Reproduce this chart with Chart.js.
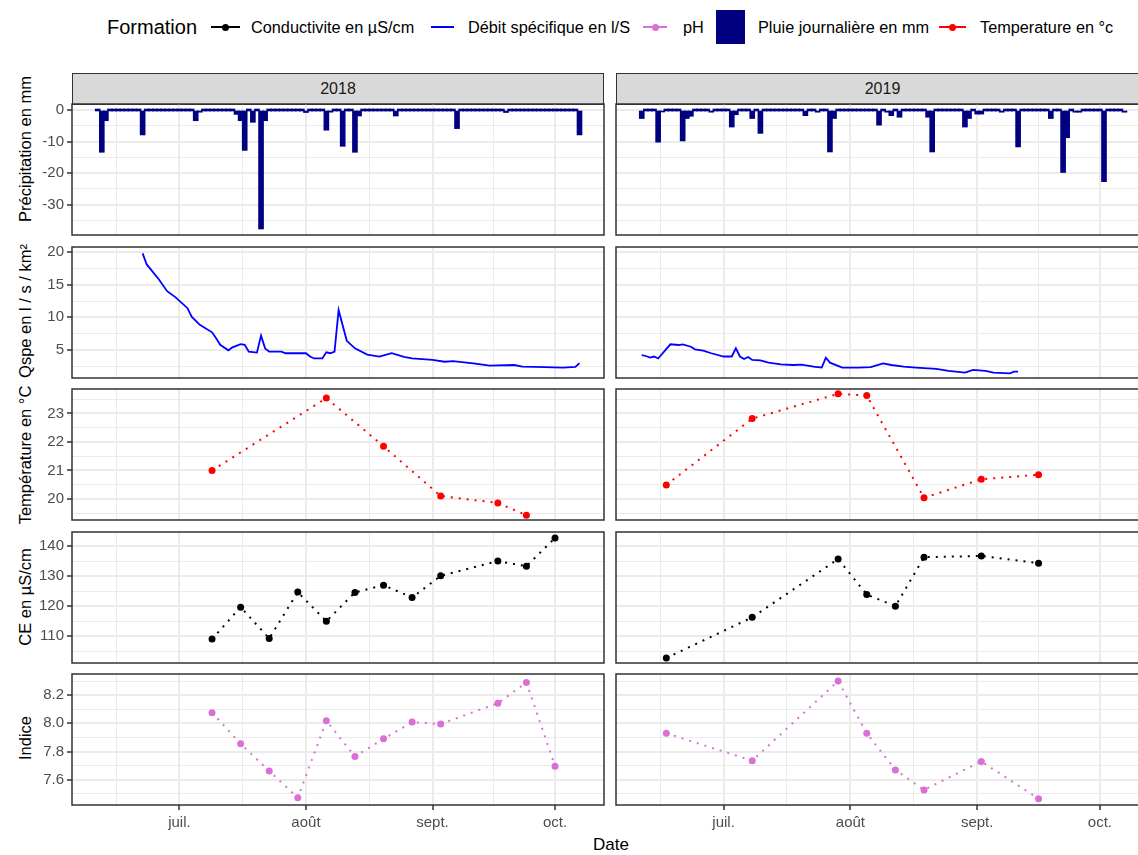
<!DOCTYPE html>
<html><head><meta charset="utf-8">
<script src="https://cdn.jsdelivr.net/npm/chart.js@4.4.1/dist/chart.umd.min.js"></script>
<style>
html,body{margin:0;padding:0;background:#fff;}
body{width:1138px;height:855px;overflow:hidden;position:relative;font-family:'Liberation Sans',Arial,sans-serif;}
canvas{position:absolute;}
.strip{position:absolute;background:#D9D9D9;border:1.5px solid #333;box-sizing:border-box;color:#1A1A1A;font-size:16px;display:flex;align-items:center;justify-content:center;}
.lg{position:absolute;white-space:nowrap;color:#000;}
.key{position:absolute;}
.ytitle{position:absolute;white-space:nowrap;color:#000;font-size:16.5px;line-height:16.5px;transform:translate(-50%,-50%) rotate(-90deg);}
</style></head><body>
<div class="lg" style="left:107px;top:17px;font-size:20px;line-height:20px">Formation</div>
<div class="key" style="left:211px;top:26px;width:29px;height:2px;background:#000"></div>
<div class="key" style="left:221.5px;top:23.5px;width:7px;height:7px;border-radius:50%;background:#000"></div>
<div class="lg" style="left:251px;top:19px;font-size:16.3px;line-height:16px">Conductivite en µS/cm</div>
<div class="key" style="left:431px;top:26px;width:23px;height:2px;background:#0000FF"></div>
<div class="lg" style="left:468px;top:19px;font-size:16.3px;line-height:16px">Débit spécifique en l/S</div>
<div class="key" style="left:643px;top:26px;width:24px;height:2px;background:#DA70D6"></div>
<div class="key" style="left:651.5px;top:23.5px;width:7px;height:7px;border-radius:50%;background:#DA70D6"></div>
<div class="lg" style="left:683px;top:19px;font-size:16.3px;line-height:16px">pH</div>
<div class="key" style="left:716px;top:10px;width:29px;height:34px;background:#000080"></div>
<div class="lg" style="left:758px;top:19px;font-size:16.3px;line-height:16px">Pluie journalière en mm</div>
<div class="key" style="left:939px;top:26px;width:27px;height:2px;background:#FF0000"></div>
<div class="key" style="left:949px;top:23.5px;width:7px;height:7px;border-radius:50%;background:#FF0000"></div>
<div class="lg" style="left:980px;top:19px;font-size:16.3px;line-height:16px">Temperature en °c</div>

<div class="strip" style="left:72px;top:73px;width:532px;height:32px">2018</div>
<div class="strip" style="left:616px;top:73px;width:533px;height:32px">2019</div>
<div class="lg" style="left:561px;width:100px;text-align:center;top:836px;font-size:17px;line-height:17px">Date</div>

<script>
// ---------------- DATA ----------------
const monthLabels = ['juil.', 'août', 'sept.', 'oct.'];
const monthStarts = ['07-01', '08-01', '09-01', '10-01'];

const rainTicks = [-30, -20, -10, 0];
const qTicks = [5, 10, 15, 20];
const tempTicks = [20, 21, 22, 23];
const ceTicks = [110, 120, 130, 140];
const phTicks = [7.6, 7.8, 8.0, 8.2];

const yTitles = ['Précipitation en mm', 'Qspe en l / s / km²', 'Température en °C', 'CE en µS/cm', 'Indice'];

// daily rain (mm), days not listed = 0
const rainPeriod2018 = ['06-11', '10-07'];
const rainDates2018 = ['06-12','06-13','06-22','07-05','07-06','07-15','07-16','07-17','07-19','07-21','07-22','08-01','08-06','08-07','08-10','08-13','08-14','08-23','09-07','09-19','10-07'];
const rainMm2018 = [13.4,3.4,7.9,3.4,0.7,1.4,3.4,12.8,3.9,37.7,3.4,0.8,6.4,0.7,11.5,13.4,1.9,1.9,5.9,0.8,7.9];
const rainPeriod2019 = ['06-11', '10-07'];
const rainDates2019 = ['06-11','06-15','06-16','06-21','06-22','06-23','06-28','07-03','07-04','07-08','07-10','07-21','07-24','07-27','07-28','08-08','08-10','08-11','08-13','08-20','08-21','08-29','08-30','09-01','09-02','09-07','09-11','09-19','09-22','09-23','09-25','09-26','10-02','10-07'];
const rainMm2019 = [2.7,10.2,0.6,9.8,2.7,2.0,0.7,5.4,1.5,2.7,7.4,1.8,0.7,13.3,2.7,4.8,0.7,1.8,2.3,2.3,13.3,5.4,2.7,1.3,1.3,0.7,11.7,2.7,19.8,8.8,0.7,0.7,22.7,0.7];

// specific discharge (l/s/km2)
const qDates2018 = ['06-22','06-23','06-26','06-28','06-30','07-03','07-04','07-06','07-09','07-10','07-11','07-13','07-14','07-16','07-17','07-18','07-20','07-21','07-22','07-23','07-26','07-27','08-01','08-02','08-03','08-05','08-06','08-07','08-08','08-09','08-11','08-13','08-16','08-19','08-22','08-25','08-27','09-01','09-04','09-06','09-11','09-15','09-21','09-23','09-26','10-03','10-06','10-07'];
const qVals2018 = [19.8,18.1,15.8,14.0,13.1,11.4,10.1,8.85,7.7,6.8,5.8,4.95,5.4,5.9,5.8,4.74,4.6,7.2,5.25,4.75,4.75,4.5,4.5,4.0,3.7,3.7,4.64,4.5,4.74,11.1,6.4,5.25,4.3,4.0,4.5,3.95,3.7,3.5,3.2,3.3,2.95,2.6,2.7,2.45,2.4,2.3,2.4,3.0];
const qDates2019 = ['06-11','06-12','06-13','06-14','06-15','06-18','06-20','06-21','06-23','06-24','06-26','06-28','07-01','07-03','07-04','07-05','07-06','07-07','07-08','07-10','07-12','07-15','07-18','07-20','07-23','07-25','07-26','07-27','07-30','08-03','08-06','08-09','08-11','08-14','08-17','08-22','08-25','08-29','08-31','09-03','09-05','09-09','09-10','09-11'];
const qVals2019 = [4.23,4.08,3.83,4.0,3.7,5.87,5.76,5.87,5.5,5.1,4.9,4.5,4.0,4.0,5.25,4.0,3.62,3.93,3.47,3.42,3.06,2.8,2.7,2.75,2.45,2.3,3.83,3.06,2.3,2.3,2.36,2.96,2.7,2.45,2.3,2.1,1.8,1.53,1.94,1.8,1.53,1.43,1.68,1.68];

// temperature (°C)
const tempDates2018 = ['07-09','08-06','08-20','09-03','09-17','09-24'];
const temp2018 = [21.0,23.54,21.85,20.1,19.86,19.43];
const tempDates2019 = ['06-17','07-08','07-29','08-05','08-19','09-02','09-16'];
const temp2019 = [20.49,22.82,23.69,23.63,20.04,20.69,20.85];

// conductivity (µS/cm) and pH
const sampleDates2018 = ['07-09','07-16','07-23','07-30','08-06','08-13','08-20','08-27','09-03','09-17','09-24','10-01'];
const ce2018 = [109.1,119.7,109.3,124.7,115.0,124.6,127.0,122.9,130.1,135.0,133.3,142.7];
const ph2018 = [8.076,7.855,7.662,7.473,8.018,7.765,7.89,8.009,7.995,8.143,8.29,7.696];
const sampleDates2019 = ['06-17','07-08','07-29','08-05','08-12','08-19','09-02','09-16'];
const ce2019 = [102.8,116.3,135.7,123.9,120.0,136.3,136.7,134.3];
const ph2019 = [7.93,7.735,8.30,7.93,7.67,7.528,7.73,7.466];

// ---------------- HELPERS ----------------
function doy(year, md) {
  const [m, d] = md.split('-').map(Number);
  return (Date.UTC(year, m - 1, d) - Date.UTC(year, 0, 1)) / 864e5 + 1;
}
function pts(year, dates, vals) { return dates.map((d, i) => ({x: doy(year, d), y: vals[i]})); }
function dailyRain(year, period, dates, vals) {
  const map = {};
  dates.forEach((d, i) => { map[doy(year, d)] = vals[i]; });
  const out = [];
  for (let t = doy(year, period[0]); t <= doy(year, period[1]); t++) out.push({x: t, y: -(map[t] || 0)});
  return out;
}
const isMajor = (v, major) => major.some(m => Math.abs(m - v) < 1e-6);
function gridValues(major, lo, hi) {
  const h = (major[1] - major[0]) / 2;
  let v = major[0];
  while (v - h >= lo - 1e-9) v -= h;
  const out = [];
  for (; v <= hi + 1e-9; v += h) out.push(Math.round(v * 1e6) / 1e6);
  return out;
}
function dateGrid(major, lo, hi) {
  const out = [...major];
  for (let i = 0; i < major.length - 1; i++) out.push((major[i] + major[i + 1]) / 2);
  out.push(major[0] - (major[1] - major[0]) / 2);
  out.push(major[major.length - 1] + (major[major.length - 1] - major[major.length - 2]) / 2);
  return out.filter(v => v >= lo && v <= hi).sort((a, b) => a - b);
}

// ---------------- LAYOUT ----------------
Chart.defaults.font.family = "'Liberation Sans', Arial, sans-serif";
const X_MIN = 155.7, X_MAX = 286.0;
const ROW_TOP = [104, 247, 389, 532, 674];
const PANEL_H = 131, PAD_V = 15, XAXIS_H = 40;
const TITLE_CY = [149, 311, 455, 597, 738];
const COLS = [
  {left: 0, width: 610, padL: 0, padR: 6, yW: 72},
  {left: 606, width: 560, padL: 10, padR: 17, yW: 0}
];
const xMajor = monthStarts.map(md => doy(2018, md));
const xGrid = dateGrid(xMajor, X_MIN, X_MAX);

const ROWS = [
  {min: -39.6, max: 1.9, major: rainTicks, fmt: String},
  {min: 0.71, max: 20.77, major: qTicks, fmt: String},
  {min: 19.26, max: 23.86, major: tempTicks, fmt: String},
  {min: 101.13, max: 144.67, major: ceTicks, fmt: String},
  {min: 7.421, max: 8.35, major: phTicks, fmt: v => v.toFixed(1)}
];
ROWS.forEach(r => { r.grid = gridValues(r.major, r.min, r.max); });

yTitles.forEach((t, i) => {
  const d = document.createElement('div');
  d.className = 'ytitle';
  d.textContent = t;
  d.style.left = '24.5px';
  d.style.top = TITLE_CY[i] + 'px';
  document.body.appendChild(d);
});

const borderPlugin = {
  id: 'panelBorder',
  afterDatasetsDraw(chart) {
    const {ctx, chartArea: a} = chart;
    ctx.save();
    ctx.strokeStyle = '#333333';
    ctx.lineWidth = 1.5;
    ctx.strokeRect(a.left, a.top, a.right - a.left, a.bottom - a.top);
    ctx.restore();
  }
};

function barSet(data) {
  return {type: 'bar', data, backgroundColor: '#000080', borderWidth: 0, barThickness: 5, minBarLength: 2};
}
function lineSet(data) {
  return {type: 'line', data, borderColor: '#0000FF', borderWidth: 1.8, pointRadius: 0, tension: 0, fill: false};
}
function dotSet(data, color) {
  return {type: 'line', data, borderColor: color, backgroundColor: color, borderWidth: 2, borderDash: [2, 6],
    borderCapStyle: 'butt', pointRadius: 3.5, pointBorderWidth: 0, pointBackgroundColor: color, tension: 0, fill: false};
}

const PANELS = [
  [barSet(dailyRain(2018, rainPeriod2018, rainDates2018, rainMm2018)), barSet(dailyRain(2019, rainPeriod2019, rainDates2019, rainMm2019))],
  [lineSet(pts(2018, qDates2018, qVals2018)), lineSet(pts(2019, qDates2019, qVals2019))],
  [dotSet(pts(2018, tempDates2018, temp2018), '#FF0000'), dotSet(pts(2019, tempDates2019, temp2019), '#FF0000')],
  [dotSet(pts(2018, sampleDates2018, ce2018), '#000000'), dotSet(pts(2019, sampleDates2019, ce2019), '#000000')],
  [dotSet(pts(2018, sampleDates2018, ph2018), '#DA70D6'), dotSet(pts(2019, sampleDates2019, ph2019), '#DA70D6')]
];

function panel(row, col) {
  const c = COLS[col], R = ROWS[row];
  const isBottom = row === ROWS.length - 1;
  const isLeft = col === 0;
  const canvas = document.createElement('canvas');
  const top = ROW_TOP[row] - PAD_V;
  const h = PAD_V + PANEL_H + (isBottom ? XAXIS_H : PAD_V);
  canvas.width = c.width; canvas.height = h;
  canvas.style.left = c.left + 'px'; canvas.style.top = top + 'px';
  canvas.style.width = c.width + 'px'; canvas.style.height = h + 'px';
  document.body.appendChild(canvas);
  const ds = PANELS[row][col];
  new Chart(canvas, {
    type: ds.type,
    data: {datasets: [ds]},
    options: {
      responsive: false, devicePixelRatio: 1, animation: false,
      layout: {padding: {top: PAD_V, bottom: isBottom ? 0 : PAD_V, left: c.padL, right: c.padR}},
      plugins: {legend: {display: false}, tooltip: {enabled: false}},
      scales: {
        x: {
          type: 'linear', min: X_MIN, max: X_MAX, offset: false,
          afterBuildTicks: s => { s.ticks = xGrid.map(v => ({value: v})); },
          afterFit: s => { s.height = isBottom ? XAXIS_H : 0; },
          ticks: {display: isBottom, autoSkip: false, maxRotation: 0, minRotation: 0, padding: 4, color: '#4D4D4D',
            font: {size: 15},
            callback: v => { const i = xMajor.findIndex(m => Math.abs(m - v) < 1e-6); return i < 0 ? '' : monthLabels[i]; }},
          grid: {offset: false, color: '#EBEBEB',
            lineWidth: ctx => (ctx.tick && isMajor(ctx.tick.value, xMajor)) ? 2 : 1,
            drawTicks: isBottom, tickLength: 5, tickWidth: 1.5,
            tickColor: ctx => (ctx.tick && isMajor(ctx.tick.value, xMajor)) ? '#333333' : 'rgba(0,0,0,0)'},
          border: {display: false}
        },
        y: {
          type: 'linear', min: R.min, max: R.max, beginAtZero: false,
          afterBuildTicks: s => { s.ticks = R.grid.map(v => ({value: v})); },
          afterFit: s => { s.width = c.yW; },
          ticks: {display: isLeft, autoSkip: false, padding: 3, color: '#4D4D4D', font: {size: 15},
            callback: v => isMajor(v, R.major) ? R.fmt(v) : ''},
          grid: {color: '#EBEBEB',
            lineWidth: ctx => (ctx.tick && isMajor(ctx.tick.value, R.major)) ? 2 : 1,
            drawTicks: isLeft, tickLength: 5, tickWidth: 1.5,
            tickColor: ctx => (ctx.tick && isMajor(ctx.tick.value, R.major)) ? '#333333' : 'rgba(0,0,0,0)'},
          border: {display: false},
          title: {display: false}
        }
      }
    },
    plugins: [borderPlugin]
  });
}

for (let r = 0; r < ROWS.length; r++) { panel(r, 0); panel(r, 1); }
</script>
</body></html>
